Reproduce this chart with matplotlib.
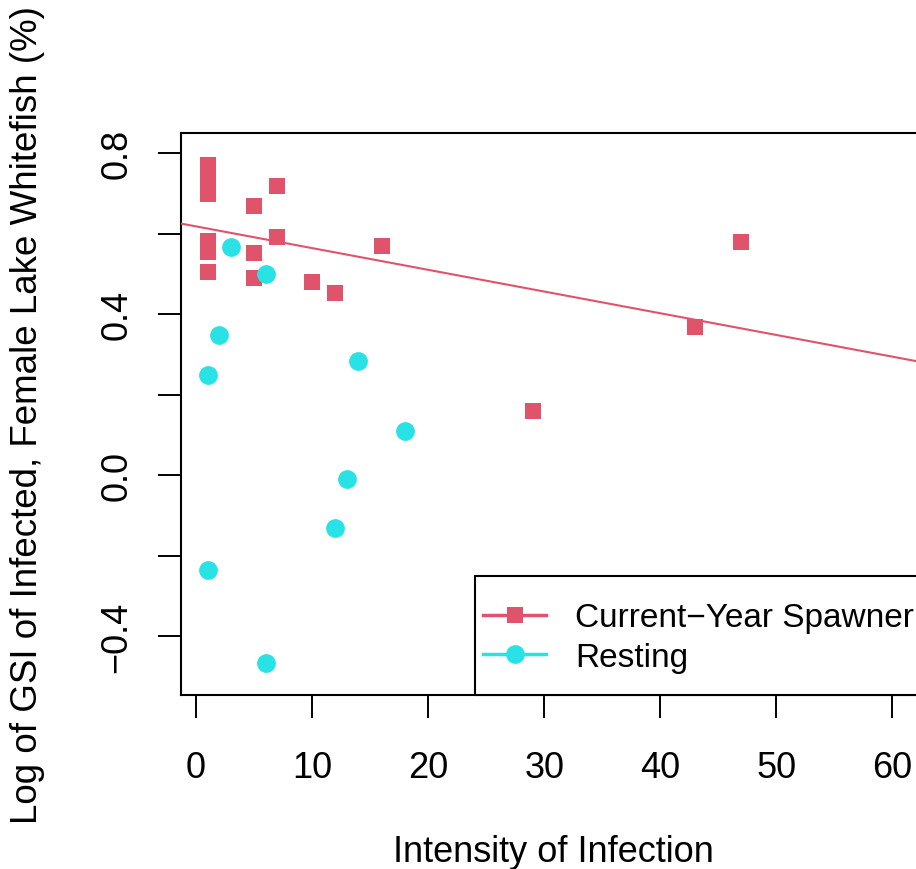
import numpy as np
import matplotlib
matplotlib.use("Agg")
import matplotlib.pyplot as plt
from matplotlib.patches import Rectangle

plt.rcParams['font.family'] = ['Liberation Sans', 'DejaVu Sans']

# data
spawner_x = [1, 1, 1, 1, 1, 1, 5, 5, 5, 7, 7, 10, 12, 16, 29, 43, 47]
spawner_y = [0.770, 0.735, 0.700, 0.581, 0.554, 0.504, 0.668, 0.552, 0.491,
             0.720, 0.593, 0.481, 0.452, 0.569, 0.160, 0.369, 0.579]
resting_x = [3, 6, 2, 1, 14, 18, 13, 12, 1, 6]
resting_y = [0.567, 0.499, 0.348, 0.250, 0.283, 0.110, -0.009, -0.130, -0.236, -0.467]

x_ticks = [0, 10, 20, 30, 40, 50, 60]
y_ticks = [0.8, 0.6, 0.4, 0.2, 0.0, -0.2, -0.4]
y_tick_labels = ["0.8", "", "0.4", "", "0.0", "", "\u22120.4"]

series_labels = ["Current\u2212Year Spawner", "Resting"]
red = "#DF536B"
cyan = "#28E2E5"

W, H = 916, 870
fig = plt.figure(figsize=(W / 100, H / 100), dpi=100)
# plot region runs a little past the right edge of the picture, as in the reference
left, right, top, bottom = 181, 926, 134, 696
ax = fig.add_axes([left / W, 1 - bottom / H, (right - left) / W, (bottom - top) / H])

ax.plot(spawner_x, spawner_y, 's', color=red, markersize=12, markeredgewidth=0, zorder=2)
ax.plot(resting_x, resting_y, 'o', color=cyan, markersize=13.5, markeredgewidth=0, zorder=2)

# regression line for current-year spawners
slope, intercept = np.polyfit(spawner_x, spawner_y, 1)
ax.axline((0, intercept), slope=slope, color=red, linewidth=1.5, zorder=3)

ax.set_xlim(-1.29, 62.9)
ax.set_ylim(-0.546, 0.8505)

ax.set_xticks(x_ticks)
ax.set_yticks(y_ticks)
ax.set_yticklabels(y_tick_labels, rotation=90, va='center')
ax.tick_params(axis='both', direction='out', length=16.5, width=1.4, labelsize=26)
ax.tick_params(axis='x', pad=23)
ax.tick_params(axis='y', pad=17)
for s in ax.spines.values():
    s.set_linewidth(1.5)

ax.set_xlabel("Intensity of Infection", fontsize=26)
ax.xaxis.set_label_coords(0.5, (bottom - 853) / (bottom - top))
ax.xaxis.label.set_va('center')
ax.set_ylabel("Log of GSI of Infected, Female Lake Whitefish (%)", fontsize=26.5)
ax.yaxis.set_label_coords((28 - left) / (right - left), 0.5)
ax.yaxis.label.set_va('center')

# legend box (bottom right, cut by the picture edge)
box = Rectangle((475 / W, 1 - 696 / H), 0.6, (696 - 577) / H, transform=fig.transFigure,
                facecolor='white', edgecolor='black', linewidth=1.5, zorder=4, clip_on=False)
fig.add_artist(box)
h1, = ax.plot([], [], color=red, marker='s', markersize=12, linewidth=2.5, markeredgewidth=0)
h2, = ax.plot([], [], color=cyan, marker='o', markersize=13.5, linewidth=2.5, markeredgewidth=0)
leg = fig.legend([h1, h2], series_labels, loc='center left',
                 bbox_to_anchor=(483 / W, 1 - 638.5 / H), bbox_transform=fig.transFigure,
                 frameon=False, fontsize=24, borderpad=0, borderaxespad=0,
                 handlelength=1.9, handletextpad=0.87, labelspacing=0.26)
leg.set_zorder(5)

fig.savefig("out.png", dpi=100)
